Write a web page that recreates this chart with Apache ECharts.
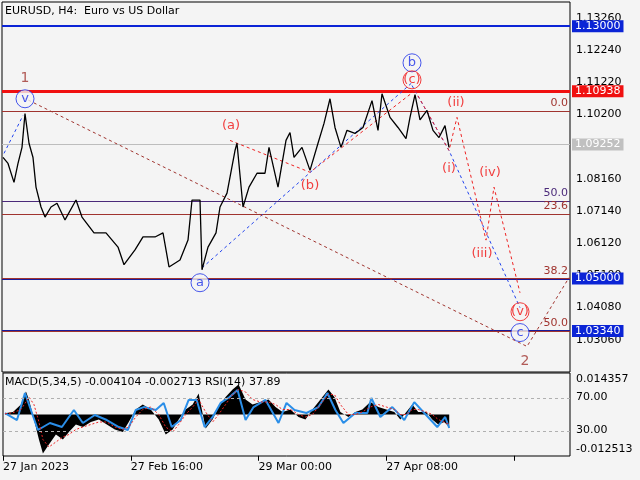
<!DOCTYPE html>
<html>
<head>
<meta charset="utf-8">
<title>EURUSD H4</title>
<script src="https://cdn.jsdelivr.net/npm/echarts@6/dist/echarts.min.js"></script>
<style>
  html, body { margin: 0; padding: 0; background: #f4f4f4; }
  #chart { width: 640px; height: 480px; }
</style>
</head>
<body>
<div id="chart"></div>
<script>
// price path (bar index, close)
var priceX = [1,6,12,16,20,23,27,31,34,39,43,49,55,63,74,80,92,104,116,122,133,141,153,161,167,178,186,190,198,200,206,214,218,225,233,235,241,247,255,263,267,276,284,288,292,300,308,316,322,328,333,339,345,353,361,370,376,380,388,396,404,408,413,418,425,431,437,443,447];
var priceY = [1.0884,1.0865,1.0805,1.0865,1.0916,1.1023,1.0929,1.0884,1.0790,1.0727,1.0695,1.0727,1.0739,1.0686,1.0749,1.0695,1.0645,1.0645,1.0600,1.0544,1.0591,1.0632,1.0632,1.0645,1.0537,1.0559,1.0622,1.0749,1.0749,1.0528,1.0600,1.0645,1.0727,1.0771,1.0906,1.0929,1.0727,1.0790,1.0834,1.0834,1.0916,1.0790,1.0938,1.0963,1.0884,1.0916,1.0843,1.0929,1.0992,1.1070,1.0979,1.0916,1.0970,1.0960,1.0979,1.1064,1.0970,1.1086,1.1011,1.0979,1.0944,1.1011,1.1083,1.1003,1.1033,1.0970,1.0947,1.0985,1.0916];

// wave / projection paths
var blueA = [[2,1.0897],[21,1.1017]];
var blueB = [[200,1.0534],[410,1.1121]];
var blueC = [[410,1.1112],[447,1.0906],[518,1.0408]];
var redABC = [[228,1.0938],[308,1.0837],[413,1.1096]];
var redProj = [[413,1.1096],[447,1.0906],[455,1.1011],[484,1.0622],[492,1.0790],[518,1.0455]];
var brownProj = [[21,1.1074],[525,1.0285],[567,1.0503]];

// horizontal levels
var levelBlue = 1.13000, levelRed = 1.10938, levelGrey = 1.09252;
var fib0 = 1.1032, fib50 = 1.0746, fib236 = 1.0705, lvl105 = 1.05000, lvl1033 = 1.03340;

// wave labels [x, price, text]
var brownLabels = [[23,1.1134,'1'],[523,1.0238,'2']];
var blueCircles = [[23,1.1070,'v'],[198,1.0487,'a'],[410,1.1184,'b'],[518,1.0329,'c']];
var redLabels = [[229,1.0985,'(a)'],[308,1.0796,'(b)'],[447,1.0850,'(i)'],[454,1.1058,'(ii)'],[480,1.0578,'(iii)'],[488,1.0837,'(iv)']];
var redCircles = [[410,1.1130,'(c)'],[518,1.0395,'(v)']];

// indicator panel
var rsiX = [2,14,22,29,35,47,59,71,80,92,104,116,125,133,141,153,161,169,178,186,194,202,210,218,227,235,243,251,263,276,284,292,304,316,325,333,341,353,365,369,378,390,402,412,422,435,443,447];
var rsiY = [51.8,43.3,76,51.8,31.2,39.7,34.8,55.5,39.7,49.4,43.3,34.8,31.2,55.5,59,55.5,64,34.8,43.3,67.6,67.6,34.8,47,64,71.2,79.7,43.3,59,67.6,39.7,64,55.5,51.8,59,76,55.5,39.7,51.8,51.8,70,47,59,43.3,65,51.8,34.8,47,33.6];
var macdX = [2,10,18,23,26,31,36,40,46,53,60,66,73,80,88,96,104,112,120,126,133,140,148,156,163,170,176,183,190,196,203,210,216,223,230,236,243,250,258,266,273,280,288,296,303,310,318,326,332,338,346,353,360,368,376,384,392,398,404,410,416,424,430,436,442,447];
var macdY = [0.0005,0.001,0.004,0.0092,0.006,-0.002,-0.010,-0.0156,-0.012,-0.008,-0.010,-0.007,-0.004,-0.005,-0.003,-0.002,-0.004,-0.006,-0.007,-0.003,0.002,0.004,0.002,-0.002,-0.008,-0.006,-0.002,0.002,0.004,0.0084,-0.0056,-0.002,0.003,0.007,0.010,0.012,0.006,0.004,0.005,0.006,0.003,0.001,0.002,-0.001,-0.002,0.002,0.006,0.010,0.007,0.001,-0.001,0.001,0.002,0.005,0.003,0.002,0.001,-0.002,0.001,0.004,0.001,0.001,-0.002,-0.004,-0.003,-0.005];
var signalY = [0.0003,0.0007,0.002,0.005,0.007,0.004,-0.003,-0.010,-0.013,-0.011,-0.009,-0.008,-0.006,-0.005,-0.004,-0.003,-0.003,-0.005,-0.006,-0.005,-0.001,0.002,0.003,0.000,-0.005,-0.007,-0.004,0.000,0.003,0.006,0.001,-0.003,0.000,0.004,0.008,0.010,0.009,0.006,0.005,0.005,0.004,0.002,0.002,0.000,-0.001,0.000,0.004,0.008,0.008,0.004,0.000,0.000,0.001,0.003,0.004,0.003,0.002,0.000,0.000,0.002,0.002,0.001,0.000,-0.002,-0.003,-0.004];

var xLabels = {0:'27 Jan 2023',128:'27 Feb 16:00',256:'29 Mar 00:00',384:'27 Apr 08:00'};
var FONT = 'DejaVu Sans';

function zip(xs, ys) { return xs.map(function (x, i) { return [x, ys[i]]; }); }

var chart = echarts.init(document.getElementById('chart'));

function boxLabel(text, bg, fg) {
    return { show: true, position: 'end', distance: 2, formatter: text,
        backgroundColor: bg, color: fg || '#fff', padding: [1, 3, 0, 3], fontSize: 11, fontFamily: FONT };
}
function fibLabel(text, color) {
    return { show: true, position: 'insideEndTop', distance: 2, formatter: text,
        color: color || '#a0342f', fontSize: 11, fontFamily: FONT };
}
// each level is its own empty series carrying one markLine
function level(v, color, width, label, z) {
    return { type: 'line', data: [], xAxisIndex: 0, yAxisIndex: 0, z: z || 2, silent: true,
        markLine: { symbol: 'none', silent: true, precision: 5, z: z || 2,
            data: [{ yAxis: v, lineStyle: { color: color, width: width, type: 'solid' }, label: label || { show: false } }] } };
}
function dashed(data, color) {
    return { type: 'line', data: data, symbol: 'none', silent: true,
        lineStyle: { color: color, width: 1, type: [3, 3] }, z: 3 };
}

var option = {
    backgroundColor: '#f4f4f4',
    animation: false,
    textStyle: { fontFamily: FONT },
    grid: [
        { left: 2, right: 70, top: 2, bottom: 108, show: true, borderColor: '#000', borderWidth: 1, backgroundColor: '#f4f4f4' },
        { left: 2, right: 70, top: 373, bottom: 24, show: true, borderColor: '#000', borderWidth: 1, backgroundColor: '#f4f4f4' }
    ],
    xAxis: [
        { type: 'value', gridIndex: 0, min: 0, max: 568, show: false },
        { type: 'value', gridIndex: 1, min: 0, max: 568, interval: 128,
          axisLine: { show: false }, splitLine: { show: false },
          axisTick: { show: true, length: 5, lineStyle: { color: '#000' } },
          axisLabel: { showMaxLabel: false, align: 'left', color: '#000', fontSize: 11, margin: 6,
              formatter: function (v) { return xLabels[v] || ''; } } }
    ],
    yAxis: [
        { type: 'value', gridIndex: 0, position: 'right', min: 1.0204, max: 1.13767, interval: 0.0102,
          axisLine: { show: false }, splitLine: { show: false },
          axisTick: { show: false },
          axisLabel: { showMinLabel: false, showMaxLabel: false, color: '#000', fontSize: 11, margin: 6,
              formatter: function (v) { return v.toFixed(5); } } },
        { type: 'value', gridIndex: 1, position: 'right', min: -0.3, max: 100.3, show: false },
        { type: 'value', gridIndex: 1, position: 'right', min: -0.0166, max: 0.0166, show: false }
    ],
    series: [
        level(levelBlue, '#0b24d6', 2, boxLabel('1.13000', '#0b24d6')),
        level(levelRed, '#f01010', 3, boxLabel('1.10938', '#f01010')),
        level(fib0, '#a0342f', 1, fibLabel('0.0')),
        level(levelGrey, '#bdbdbd', 1, boxLabel('1.09252', '#c0c0c0')),
        level(fib50, '#4b2a7a', 1, fibLabel('50.0', '#4b2a7a')),
        level(fib236, '#a0342f', 1, fibLabel('23.6')),
        level(lvl105, '#1a1a9a', 2, boxLabel('1.05000', '#0b24d6')),
        level(lvl105, '#a0342f', 1, fibLabel('38.2'), 3),
        level(lvl1033, '#1a1a9a', 2, boxLabel('1.03340', '#0b24d6')),
        level(lvl1033, '#a0342f', 1, fibLabel('50.0'), 3),
        {
            type: 'line', data: zip(priceX, priceY), symbol: 'none', z: 4,
            lineStyle: { color: '#000', width: 1.3 }
        },
        dashed(blueA, '#2244ee'),
        dashed(blueB, '#2244ee'),
        dashed(blueC, '#2244ee'),
        dashed(redABC, '#ee2222'),
        dashed(redProj, '#ee2222'),
        dashed(brownProj, '#a0342f'),
        { type: 'scatter', data: brownLabels, symbolSize: 1, itemStyle: { color: 'transparent' }, z: 6,
          label: { show: true, position: 'inside', formatter: function (p) { return p.data[2]; },
                   color: '#a0342f', fontSize: 14 } },
        { type: 'scatter', data: blueCircles, symbol: 'circle', symbolSize: 18, z: 6,
          itemStyle: { color: '#f4f4f4', borderColor: '#1a2ee8', borderWidth: 1 },
          label: { show: true, position: 'inside', formatter: function (p) { return p.data[2]; },
                   color: '#1a2ee8', fontSize: 13 } },
        { type: 'scatter', data: redCircles, symbol: 'circle', symbolSize: 18, z: 6,
          itemStyle: { color: 'rgba(0,0,0,0)', borderColor: '#f01010', borderWidth: 1 },
          label: { show: true, position: 'inside', formatter: function (p) { return p.data[2]; },
                   color: '#f01010', fontSize: 13 } },
        { type: 'scatter', data: redLabels, symbolSize: 1, itemStyle: { color: 'transparent' }, z: 6,
          label: { show: true, position: 'inside', formatter: function (p) { return p.data[2]; },
                   color: '#f01010', fontSize: 13 } },
        // MACD histogram
        { type: 'line', xAxisIndex: 1, yAxisIndex: 2, data: zip(macdX, macdY), symbol: 'none',
          lineStyle: { width: 0 }, areaStyle: { color: '#000', opacity: 1, origin: 0 }, z: 2 },
        // signal
        { type: 'line', xAxisIndex: 1, yAxisIndex: 2, data: zip(macdX, signalY), symbol: 'none',
          lineStyle: { color: '#ee2222', width: 1, type: [2, 2] }, z: 4 },
        // RSI
        { type: 'line', xAxisIndex: 1, yAxisIndex: 1, data: zip(rsiX, rsiY), symbol: 'none',
          lineStyle: { color: '#2a8ee8', width: 2 }, z: 3,
          markLine: { symbol: 'none', silent: true,
              lineStyle: { color: '#b0b0b0', type: [3, 3], width: 1 }, label: { show: false },
              data: [{ yAxis: 70 }, { yAxis: 30 }] } }
    ],
    graphic: [
        { type: 'text', left: 5, top: 6, style: { text: 'EURUSD, H4:  Euro vs US Dollar', fill: '#000', font: '11px ' + FONT } },
        { type: 'text', left: 5, top: 377, style: { text: 'MACD(5,34,5) -0.004104 -0.002713 RSI(14) 37.89', fill: '#000', font: '11px ' + FONT } },
        { type: 'text', left: 576, top: 374, style: { text: '0.014357', fill: '#000', font: '11px ' + FONT } },
        { type: 'text', left: 576, top: 392, style: { text: '70.00', fill: '#000', font: '11px ' + FONT } },
        { type: 'text', left: 576, top: 425, style: { text: '30.00', fill: '#000', font: '11px ' + FONT } },
        { type: 'text', left: 576, top: 444, style: { text: '-0.012513', fill: '#000', font: '11px ' + FONT } }
    ]
};
chart.setOption(option);
</script>
</body>
</html>
